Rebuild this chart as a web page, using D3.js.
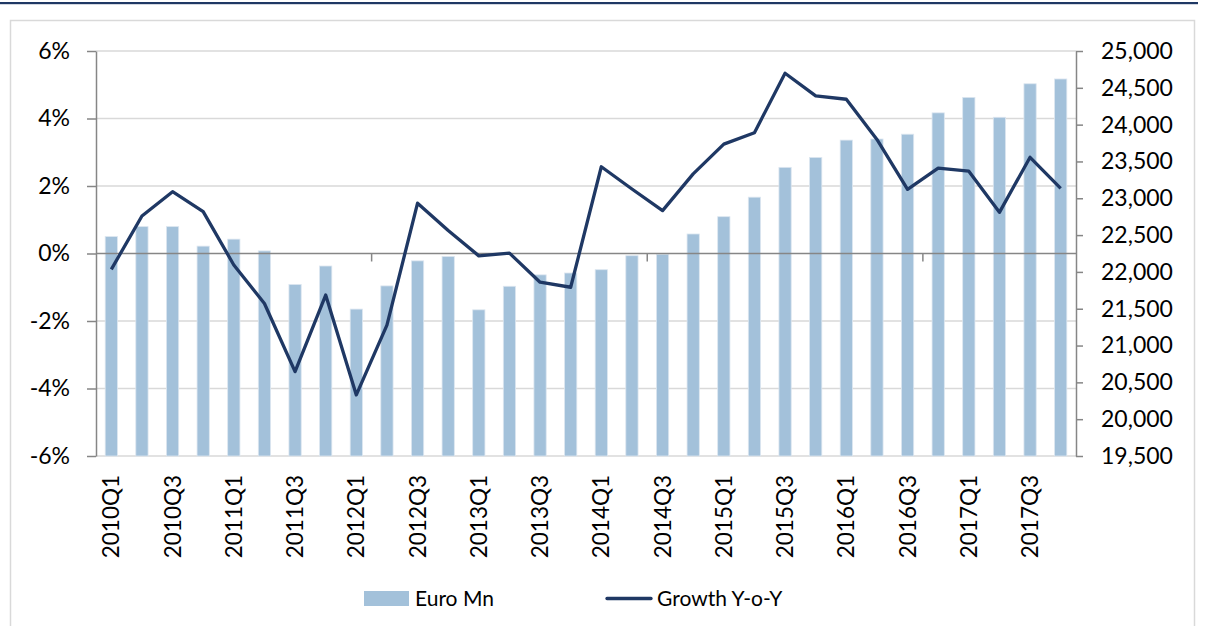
<!DOCTYPE html>
<html>
<head>
<meta charset="utf-8">
<script src="https://cdn.jsdelivr.net/npm/d3@7"></script>
<style>
  body { margin: 0; background: #fff; }
  text { font-family: Lato, "Open Sans", sans-serif; fill: #000; }
</style>
</head>
<body>
<script>
// Quarters on the category axis
var quarters = ["2010Q1","2010Q2","2010Q3","2010Q4","2011Q1","2011Q2","2011Q3","2011Q4",
  "2012Q1","2012Q2","2012Q3","2012Q4","2013Q1","2013Q2","2013Q3","2013Q4",
  "2014Q1","2014Q2","2014Q3","2014Q4","2015Q1","2015Q2","2015Q3","2015Q4",
  "2016Q1","2016Q2","2016Q3","2016Q4","2017Q1","2017Q2","2017Q3","2017Q4"];

// Bars, right axis
var euroMn = [22480, 22615, 22615, 22350, 22445, 22285, 21830, 22080,
  21495, 21810, 22150, 22210, 21485, 21805, 21960, 21985,
  22030, 22220, 22240, 22515, 22750, 23015, 23420, 23555,
  23790, 23805, 23870, 24160, 24370, 24100, 24555, 24620];

// Line, left axis (%)
var growth = [-0.47, 1.11, 1.83, 1.24, -0.34, -1.48, -3.50, -1.23,
  -4.19, -2.12, 1.49, 0.68, -0.07, 0.01, -0.85, -1.00,
  2.57, 1.91, 1.27, 2.36, 3.24, 3.58, 5.34, 4.67,
  4.57, 3.38, 1.90, 2.53, 2.44, 1.22, 2.85, 1.93];

var leftTicks = [-6, -4, -2, 0, 2, 4, 6];
var rightTicks = [19500, 20000, 20500, 21000, 21500, 22000, 22500, 23000, 23500, 24000, 24500, 25000];
var labelQuarters = quarters.filter((d, i) => i % 2 == 0);
var seriesNames = ["Euro Mn", "Growth Y-o-Y"];

var width = 1206;
var height = 626;

// plot area (note: "top" is taken by window.top)
var plotLeft = 96, plotRight = 1076, plotTop = 51, plotBottom = 456;

var barColor = "#a3c1da";
var lineColor = "#1f3864";
var gridColor = "#d9d9d9";
var axisColor = "#868686";

var svg = d3.select("body")
  .append("svg")
  .attr("width", width)
  .attr("height", height);

// frame
svg.append("rect")
  .attr("x", 0).attr("y", 2)
  .attr("width", 1198).attr("height", 2.2)
  .attr("fill", lineColor);

svg.append("rect")
  .attr("x", 10.5).attr("y", 20.5)
  .attr("width", 1184).attr("height", 630)
  .attr("fill", "none")
  .attr("stroke", gridColor)
  .attr("stroke-width", 1.5);

var x = d3.scaleBand()
  .domain(quarters)
  .range([plotLeft, plotRight])
  .paddingInner(0.6)
  .paddingOuter(0.3);

var yL = d3.scaleLinear().domain([-6, 6]).range([plotBottom, plotTop]);
var yR = d3.scaleLinear().domain([19500, 25000]).range([plotBottom, plotTop]);

// gridlines
svg.append("g")
  .selectAll("line")
  .data(leftTicks.filter(d => d != 0))
  .enter()
  .append("line")
  .attr("x1", plotLeft).attr("x2", plotRight)
  .attr("y1", d => yL(d)).attr("y2", d => yL(d))
  .attr("stroke", gridColor)
  .attr("stroke-width", 1.5);

// bars
svg.append("g")
  .selectAll("rect")
  .data(euroMn)
  .enter()
  .append("rect")
  .attr("x", (d, i) => x(quarters[i]))
  .attr("y", d => yR(d))
  .attr("width", x.bandwidth())
  .attr("height", d => plotBottom - yR(d))
  .attr("fill", barColor)
  .attr("stroke", "#dce6f0")
  .attr("stroke-width", 0.8);

// zero line (category axis) with tick marks every 9 categories
var zeroY = yL(0);
svg.append("line")
  .attr("x1", plotLeft).attr("x2", plotRight)
  .attr("y1", zeroY).attr("y2", zeroY)
  .attr("stroke", axisColor)
  .attr("stroke-width", 1.5);

var gap = x.step() * x.paddingInner() / 2;
svg.append("g")
  .selectAll("line")
  .data([9, 18, 27])
  .enter()
  .append("line")
  .attr("x1", i => x(quarters[i]) - gap)
  .attr("x2", i => x(quarters[i]) - gap)
  .attr("y1", zeroY).attr("y2", zeroY + 8)
  .attr("stroke", axisColor)
  .attr("stroke-width", 1.5);

// category labels
var xAxis = svg.append("g")
  .attr("transform", "translate(0," + plotBottom + ")")
  .call(d3.axisBottom(x).tickValues(labelQuarters).tickSize(0));
xAxis.select(".domain").remove();
xAxis.selectAll("text")
  .attr("transform", "rotate(-90)")
  .attr("text-anchor", "end")
  .attr("x", -19)
  .attr("y", 0)
  .attr("dy", "0.36em")
  .attr("font-size", "22.5px")
  .attr("fill", "#000");

// left axis
var leftAxis = svg.append("g")
  .attr("transform", "translate(" + plotLeft + ",0)")
  .call(d3.axisLeft(yL).tickValues(leftTicks).tickFormat(d => d + "%")
    .tickSize(9).tickSizeOuter(0).tickPadding(17));
leftAxis.selectAll("path, line").attr("stroke", axisColor).attr("stroke-width", 1.5);
leftAxis.selectAll("text").attr("font-size", "23px").attr("fill", "#000");

// right axis
var rightAxis = svg.append("g")
  .attr("transform", "translate(" + plotRight + ",0)")
  .call(d3.axisRight(yR).tickValues(rightTicks).tickFormat(d3.format(","))
    .tickSize(7).tickSizeOuter(0).tickPadding(18));
rightAxis.selectAll("path, line").attr("stroke", axisColor).attr("stroke-width", 1.5);
rightAxis.selectAll("text").attr("font-size", "23px").attr("fill", "#000");

// growth line
var line = d3.line()
  .x((d, i) => x(quarters[i]) + x.bandwidth() / 2)
  .y(d => yL(d));

svg.append("path")
  .datum(growth)
  .attr("d", line)
  .attr("fill", "none")
  .attr("stroke", lineColor)
  .attr("stroke-width", 3.3)
  .attr("stroke-linejoin", "round");

// legend
svg.append("rect")
  .attr("x", 364).attr("y", 591)
  .attr("width", 45).attr("height", 15)
  .attr("fill", barColor);
svg.append("text")
  .attr("x", 415).attr("y", 606)
  .attr("font-size", "21px")
  .text(seriesNames[0]);

svg.append("line")
  .attr("x1", 607).attr("x2", 651)
  .attr("y1", 598.5).attr("y2", 598.5)
  .attr("stroke", lineColor)
  .attr("stroke-width", 3.3)
  .attr("stroke-linecap", "round");
svg.append("text")
  .attr("x", 657).attr("y", 606)
  .attr("font-size", "21px")
  .text(seriesNames[1]);
</script>
</body>
</html>
